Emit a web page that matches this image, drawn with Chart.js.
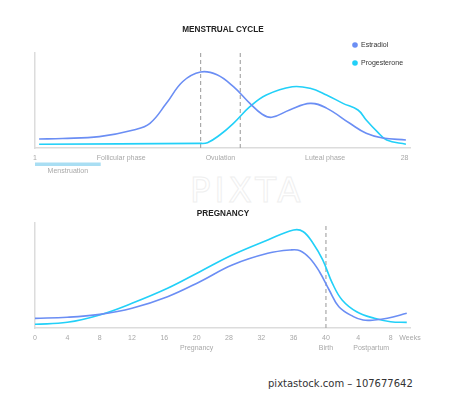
<!DOCTYPE html>
<html>
<head>
<meta charset="utf-8">
<script src="https://cdn.jsdelivr.net/npm/chart.js@4.4.1/dist/chart.umd.min.js"></script>
<style>
body { margin: 0; background: #fff; width: 450px; height: 395px; overflow: hidden; position: relative; }
canvas { position: absolute; left: 0; }
#cycle { top: 0; }
#preg { top: 190px; }
#mark { position: absolute; left: 190px; top: 170px; font: 34px "DejaVu Sans"; letter-spacing: 4px; color: transparent; -webkit-text-stroke: 1px #efefef; }
#stock { position: absolute; left: 268px; top: 378px; font: 10px "DejaVu Sans"; color: #333; white-space: nowrap; }
</style>
</head>
<body>
<div id="mark">PIXTA</div>
<canvas id="cycle" width="450" height="185"></canvas>
<canvas id="preg" width="450" height="175"></canvas>
<div id="stock">pixtastock.com – 107677642</div>
<script>
// menstrual cycle, x = day of cycle
const cycleEstrDays = [1.3, 3, 5.7, 8.2, 9.4, 10.6, 11.8, 13.1, 14.3, 15.5, 16.7, 17.6, 18.3, 19.6, 21.1, 22.3, 24, 25.2, 26.4, 28.1];
const cycleEstrLevels = [9.5, 10, 12, 19, 26, 47, 70, 80, 77, 64.5, 47, 35.5, 32.3, 40, 47, 42, 26, 15.5, 10.5, 8.5];
const cycleProgDays = [1.3, 13.0, 13.6, 14.5, 15.5, 16.7, 17.9, 19.8, 21.1, 22.3, 23.5, 24.6, 25.2, 26.0, 26.7, 28.1];
const cycleProgLevels = [4, 4.9, 5.6, 13.7, 26, 43.5, 55.8, 64.5, 62.8, 55.8, 47, 40, 29.5, 17.2, 8.4, 4];
const ovulationDays = [13.1, 16];
const menstruationDays = [1, 5.8];
const cycleTickValues = [1, 7.3, 14.55, 22.2, 28];
const cycleTickLabels = ['1', 'Follicular phase', 'Ovulation', 'Luteal phase', '28'];

// pregnancy, x = position on the week axis
const pregEstrPos = [0, 1, 2, 3, 4.1, 5.1, 6.1, 7.2, 7.9, 8.2, 8.5, 8.8, 9.1, 9.4, 9.85, 10.15, 10.5, 10.9, 11.5];
const pregEstrLevels = [9.2, 10.2, 13, 18.8, 29.8, 44.1, 60, 71.1, 74.3, 73.6, 66.4, 53.6, 36.2, 20.3, 10.8, 7.6, 7.6, 9.2, 14];
const pregProgPos = [0, 1, 2, 3, 4.1, 5.1, 6.1, 7.2, 8, 8.3, 8.6, 8.9, 9.2, 9.5, 9.95, 10.5, 11, 11.5];
const pregProgLevels = [3.5, 5.4, 12.4, 23.5, 37.8, 53.6, 69.5, 83.8, 93.3, 91.7, 80.7, 64.8, 42.5, 26.7, 15.5, 9.2, 6, 5.4];
const birthPos = 9;
const pregTickValues = [0, 1, 2, 3, 4, 5, 6, 7, 8, 9, 10, 10.4, 11, 11.6];
const pregTickLabels = ['0', '4', '8', '12', '16', ['20', 'Pregnancy'], '28', '32', '36', ['40', 'Birth'], '4', ['', 'Postpartum'], '8', 'Weeks'];

const ESTR = '#6b8ef4';
const PROG = '#22d0f8';
const AXIS = '#dcdcdc';
const TICK = '#a8a8a8';

function pts(xs, ys) {
    return xs.map((x, i) => ({ x: x, y: ys[i] }));
}

function curve(label, color, data) {
    return {
        label: label, data: data, borderColor: color, backgroundColor: color,
        borderWidth: 1.6, pointRadius: 0, tension: 0.4, fill: false
    };
}

function dashLine(x) {
    return {
        label: 'marker', data: [{ x: x, y: 0 }, { x: x, y: 100 }],
        borderColor: '#a9a9a9', borderWidth: 1.2, borderDash: [4, 3], pointRadius: 0
    };
}

function xAxis(min, max, values, labels) {
    return {
        type: 'linear', min: min, max: max,
        grid: { display: false, drawTicks: false },
        border: { color: AXIS, width: 1.5 },
        afterBuildTicks: s => { s.ticks = values.map(v => ({ value: v })); },
        afterFit: s => { s.height = 37; },
        ticks: {
            autoSkip: false, maxRotation: 0, padding: 5, color: TICK,
            font: { family: 'Liberation Sans', size: 7, lineHeight: 1.4 },
            callback: (v, i) => labels[i]
        }
    };
}

const yAxis = {
    min: 0, max: 100,
    grid: { display: false, drawTicks: false },
    border: { color: AXIS, width: 1.5 },
    ticks: { display: false },
    afterFit: s => { s.width = 0; }
};

// title + legend + menstruation bar
const decor = {
    id: 'decor',
    afterDraw(chart, args, opts) {
        const ctx = chart.ctx;
        ctx.save();
        ctx.fillStyle = '#222';
        ctx.font = 'bold 8.2px "Liberation Sans"';
        ctx.textAlign = 'center';
        ctx.textBaseline = 'middle';
        ctx.fillText(opts.title, 223, opts.titleY);
        if (opts.legend) {
            ctx.font = '7px "Liberation Sans"';
            ctx.textAlign = 'left';
            chart.data.datasets.slice(0, 2).forEach((ds, i) => {
                const y = 45 + i * 18;
                ctx.fillStyle = ds.borderColor;
                ctx.beginPath();
                ctx.arc(355, y, 2.8, 0, Math.PI * 2);
                ctx.fill();
                ctx.fillStyle = '#333';
                ctx.fillText(ds.label, 361, y + 0.5);
            });
        }
        if (opts.bar) {
            const xs = chart.scales.x;
            const x0 = xs.getPixelForValue(opts.bar[0]);
            const x1 = xs.getPixelForValue(opts.bar[1]);
            ctx.fillStyle = '#a9def3';
            ctx.fillRect(x0, 162.5, x1 - x0, 3.5);
            ctx.fillStyle = TICK;
            ctx.font = '7px "Liberation Sans"';
            ctx.textAlign = 'center';
            ctx.fillText('Menstruation', (x0 + x1) / 2, 171.5);
        }
        ctx.restore();
    }
};

new Chart(document.getElementById('cycle'), {
    type: 'line',
    data: {
        datasets: [
            curve('Estradiol', ESTR, pts(cycleEstrDays, cycleEstrLevels)),
            curve('Progesterone', PROG, pts(cycleProgDays, cycleProgLevels)),
            ...ovulationDays.map(dashLine)
        ]
    },
    options: {
        responsive: false, animation: false,
        layout: { padding: { left: 35, right: 40, top: 53, bottom: 0 } },
        scales: { x: xAxis(1, 28.4, cycleTickValues, cycleTickLabels), y: yAxis },
        plugins: {
            legend: { display: false }, tooltip: { enabled: false },
            decor: { title: 'MENSTRUAL CYCLE', titleY: 30, legend: true, bar: menstruationDays }
        }
    },
    plugins: [decor]
});

new Chart(document.getElementById('preg'), {
    type: 'line',
    data: {
        datasets: [
            curve('Estradiol', ESTR, pts(pregEstrPos, pregEstrLevels)),
            curve('Progesterone', PROG, pts(pregProgPos, pregProgLevels)),
            dashLine(birthPos)
        ]
    },
    options: {
        responsive: false, animation: false,
        layout: { padding: { left: 35, right: 40, top: 33, bottom: 0 } },
        scales: { x: xAxis(0, 11.6, pregTickValues, pregTickLabels), y: yAxis },
        plugins: {
            legend: { display: false }, tooltip: { enabled: false },
            decor: { title: 'PREGNANCY', titleY: 24, legend: false, bar: null }
        }
    },
    plugins: [decor]
});
</script>
</body>
</html>
